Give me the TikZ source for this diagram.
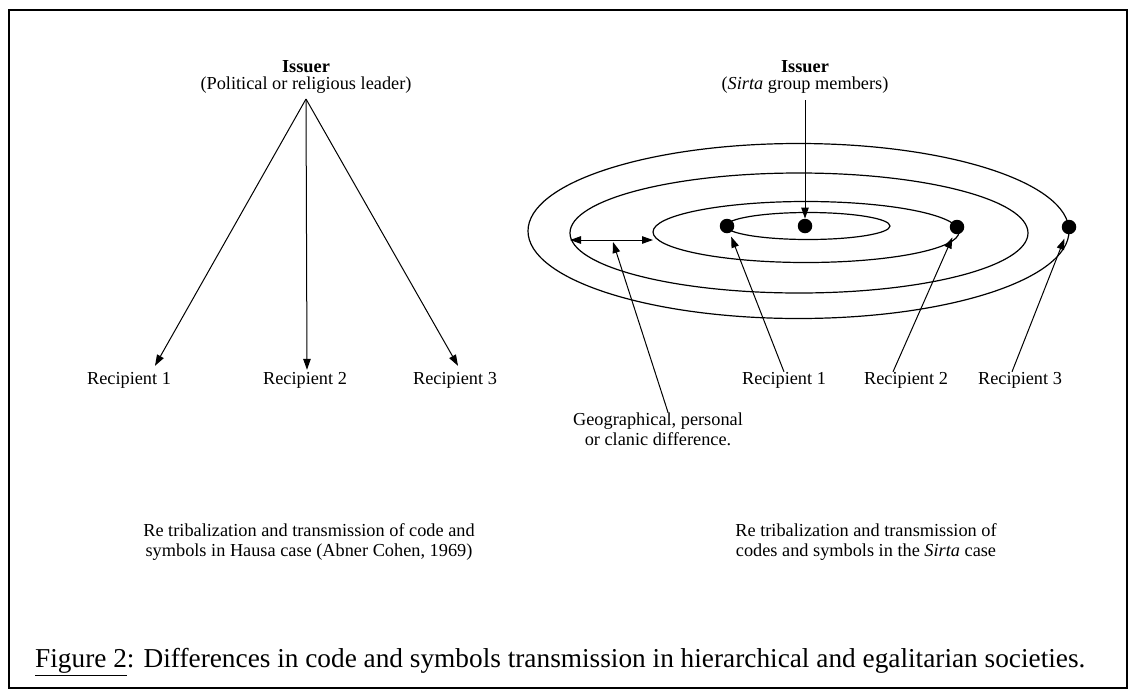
\documentclass[tikz,border=0pt]{standalone}
\usepackage{fontspec}
\setmainfont{Liberation Serif}
\usetikzlibrary{arrows.meta}
\begin{document}
\begin{tikzpicture}[x=1pt,y=-1pt,
  txt/.style={font=\rmfamily\fontsize{18.3}{20}\selectfont, inner sep=0pt, align=center},
  arr/.style={line width=1pt, -{Triangle[length=11pt,width=7.5pt]}},
  dblarr/.style={line width=1pt, {Triangle[length=11pt,width=7.5pt]}-{Triangle[length=11pt,width=7.5pt]}},
  ell/.style={line width=1.2pt},
  dotnode/.style={circle, fill=black, minimum size=14.5pt, inner sep=0pt}]
\useasboundingbox (0,0) rectangle (1136,697);
\draw[line width=2pt] (9,10) rectangle (1127,688);

% ---------- left diagram ----------
\node[txt] (li) at (306,67) {\textbf{Issuer}};
\node[txt] (lp) at (306,85) {(Political or religious leader)};
\coordinate (apex) at (306,99);
\node[txt] (lr1) at (129,380) {Recipient 1};
\node[txt] (lr2) at (305,380) {Recipient 2};
\node[txt] (lr3) at (455,380) {Recipient 3};
\draw[arr] (apex) -- ([xshift=26pt,yshift=6pt]lr1.north);
\draw[arr] (apex) -- ([xshift=2pt,yshift=2pt]lr2.north);
\draw[arr] (apex) -- ([xshift=3pt,yshift=6pt]lr3.north);

% ---------- right diagram ----------
\draw[ell] (798.5,231) ellipse [x radius=270.5pt, y radius=87.5pt];
\draw[ell] (799,233) ellipse [x radius=229pt, y radius=60pt];
\draw[ell] (806,232) ellipse [x radius=153pt, y radius=30.5pt];
\draw[ell] (808,226) ellipse [x radius=82pt, y radius=13.5pt];

\node[txt] (ri) at (805,67) {\textbf{Issuer}};
\node[txt] (rp) at (805,85) {(\textit{Sirta} group members)};
\coordinate (rtop) at (805,100);

\node[dotnode] (d1) at (727,226) {};
\node[dotnode] (d0) at (805,226) {};
\node[dotnode] (d2) at (957,227) {};
\node[dotnode] (d3) at (1069,227) {};

\draw[arr] (rtop) -- (d0);

\node[txt] (r1) at (784,380) {Recipient 1};
\node[txt] (r2) at (906,380) {Recipient 2};
\node[txt] (r3) at (1020,380) {Recipient 3};
\draw[arr, shorten >=4pt] (r1.north) -- (d1);
\draw[arr, shorten >=4pt] ([xshift=-13pt]r2.north) -- (d2);
\draw[arr, shorten >=5pt] ([xshift=-8pt]r3.north) -- (d3);

\coordinate (dl) at (570,240);
\coordinate (dr) at (653,240);
\coordinate (gtip) at (613,242);
\draw[dblarr] (dl) -- (dr);
\node[txt] (geo) at (658,429) {Geographical, personal\\or clanic difference.};
\draw[arr] ([xshift=10pt]geo.north) -- (gtip);

% ---------- captions ----------
\node[txt] (lcap) at (309,542) {Re tribalization and transmission of code and\\symbols in Hausa case (Abner Cohen, 1969)};
\node[txt] (rcap) at (866,542) {Re tribalization and transmission of\\codes and symbols in the \textit{Sirta} case};
\node[anchor=west, inner sep=0pt, font=\rmfamily\fontsize{27.3}{30}\selectfont] (fig) at (35,662)
  {\underline{Figure 2}: Differences in code and symbols transmission in hierarchical and egalitarian societies.};
\end{tikzpicture}
\end{document}
